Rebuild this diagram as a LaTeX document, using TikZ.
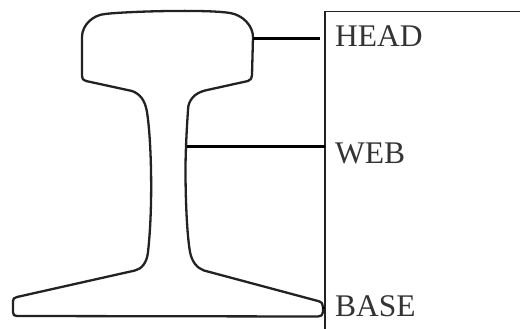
\documentclass[tikz,border=0pt]{standalone}
\usepackage{fontspec}
\setmainfont{Liberation Serif}
\definecolor{labelgray}{HTML}{333333}
\definecolor{railink}{HTML}{222222}
\tikzset{
  partlabel/.style={anchor=base west,inner sep=0pt,text=labelgray,font=\fontsize{31.5}{31.5}\selectfont},
  leader/.style={draw=black,line width=2.4pt},
  frameline/.style={draw=railink,line width=1.8pt},
  railoutline/.style={draw=railink,line width=2.3pt,line join=round}
}
\begin{document}
\begin{tikzpicture}[x=1pt,y=-1pt]
\useasboundingbox (0,0) rectangle (520,329);
\fill[white] (0,0) rectangle (520,329);
% rail profile
\draw[railoutline]
  (105,14) .. controls (125,11.5) and (205,9) .. (230,13)
  .. controls (243,15) and (253,26) .. (253,37)
  -- (252,75) .. controls (252,78) and (251,80) .. (248,81)
  -- (205,90.5) .. controls (195,93) and (188,100) .. (188,110)
  .. controls (187,125) and (185.5,150) .. (185.5,170)
  .. controls (185.5,200) and (187,235) .. (190,252)
  .. controls (192,262) and (197,268) .. (204,270.5)
  -- (318,301) .. controls (322,302) and (323,304) .. (323,307)
  -- (323,312) .. controls (323,315) and (321,316.5) .. (318,316.5)
  -- (17,316) .. controls (14,316) and (13,315) .. (13,312)
  -- (13,301) .. controls (13,298.5) and (14,298) .. (17,297)
  -- (135,270.5) .. controls (142,269) and (147,262) .. (148,252)
  .. controls (151,225) and (151.5,195) .. (151,170)
  .. controls (150.5,145) and (149,125) .. (147,112)
  .. controls (145,100) and (140,94) .. (132,91)
  -- (86,81) .. controls (83,80) and (82,79) .. (82,76)
  -- (82,37) .. controls (82,25) and (93,15) .. (105,14) -- cycle;
% frame
\coordinate (frameTop) at (325,11.5);
\coordinate (frameBottom) at (325,329);
\coordinate (frameRight) at (520,11.5);
\draw[frameline] (frameBottom) -- (frameTop) -- (frameRight);
% labels
\node[partlabel] (head) at (335,47) {HEAD};
\node[partlabel] (web) at (335,163) {WEB};
\node[partlabel] (base) at (335,316) {BASE};
% leaders
\coordinate (headEdge) at (253,38.5);
\coordinate (headEnd) at (319.5,38.5);
\coordinate (webEdge) at (187,146.5);
\coordinate (webEnd) at (325,146.5);
\coordinate (baseEdge) at (322,308);
\coordinate (baseEnd) at (325,308);
\draw[leader] (headEdge) -- (headEnd);
\draw[leader] (webEdge) -- (webEnd);
\draw[leader] (baseEdge) -- (baseEnd);
\end{tikzpicture}
\end{document}
